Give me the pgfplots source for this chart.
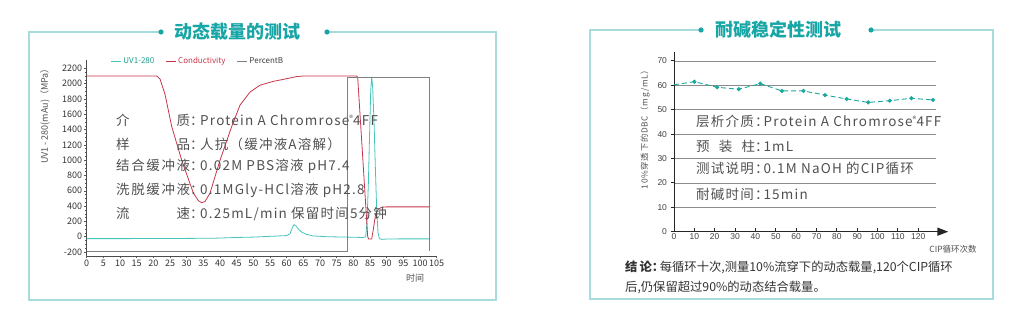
\documentclass[border=0pt]{standalone}
\usepackage{fontspec}
\setmainfont{Noto Sans CJK SC}
\newfontfamily\txtf[LetterSpace=9]{Noto Sans CJK SC}
\newfontfamily\arialf{Liberation Sans}
\usepackage{pgfplots}
\pgfplotsset{compat=1.18}
\usetikzlibrary{arrows.meta}
\definecolor{frame}{HTML}{A8DCDC}
\definecolor{ttl}{HTML}{17A5A5}
\definecolor{uv}{HTML}{45C4BC}
\definecolor{uvtxt}{HTML}{1E9E8C}
\definecolor{cond}{HTML}{C8344A}
\definecolor{pb}{HTML}{808080}
\definecolor{txt}{HTML}{505050}
\definecolor{dbc}{HTML}{1AA89C}
\definecolor{gridc}{HTML}{8C8C8C}

\pgfplotstableread{
x y
0 -25
10 -25
20 -24
30 -22
38 -20
45 -10
50 -5
55 5
60 15
61 40
61.7 120
62.2 158
62.8 140
63.5 100
64.5 60
66 30
68 10
72 0
78 -5
83 -10
83.7 0
84.1 200
84.5 700
84.9 1400
85.2 1900
85.5 2090
85.8 1950
86.2 1500
86.6 900
87 350
87.4 50
87.8 -25
88.5 -35
90 -30
95 -28
103 -28
}\uvdata

\pgfplotstableread{
x y
0 2100
21 2100
22 2060
23.5 1860
25.5 1440
28.5 1000
32 570
33.5 470
34.5 445
35.5 460
37 570
40 1000
43.5 1440
46 1720
49 1890
52 1980
56 2030
60 2065
63 2092
65 2100
81 2100
81.3 2080
84.3 0
84.6 -30
85.5 -30
86 100
86.7 300
87.5 360
88.5 385
90 390
103 390
}\conddata

\pgfplotstableread{
x y
0 -190
78.3 -190
78.3 2085
102.8 2085
102.8 -190
}\pbdata

\pgfplotstableread{
x y
0 60.2
10 61.5
21.2 59.2
31.8 58.4
42.4 60.7
53 57.7
63.6 57.7
74.2 56.0
84.8 54.4
95.4 53.0
106 53.7
116.6 54.7
127.2 54.0
}\dbcdata

\begin{document}
\begin{tikzpicture}[x=1pt,y=1pt]
\path[use as bounding box] (0,0) rectangle (1027,329);

% ---------- left panel frame ----------
\draw[frame, line width=1.4pt] (161,297) -- (29,297) -- (29,29) -- (496,29) -- (496,297) -- (327,297);
\fill[ttl] (161,297) circle (2.6);
\fill[ttl] (327,297) circle (2.6);
\node[ttl, font=\fontsize{18}{18}\selectfont\bfseries] at (237,297) {动态载量的测试};

% ---------- right panel frame ----------
\draw[frame, line width=1.4pt] (701,299) -- (590,299) -- (590,30) -- (993,30) -- (993,299) -- (871,299);
\fill[ttl] (701,299) circle (2.6);
\fill[ttl] (871,299) circle (2.6);
\node[ttl, font=\fontsize{18}{18}\selectfont\bfseries] at (778,299) {耐碱稳定性测试};

% ---------- left chart ----------
\begin{axis}[
  at={(86.7pt,73pt)}, anchor=south west, scale only axis,
  width=350pt, height=195.7pt,
  xmin=0, xmax=105, ymin=-252, ymax=2305,
  axis x line=bottom, axis y line=left,
  axis line style={-, draw=black!70, line width=0.7pt},
  xtick={0,5,...,105}, ytick={-200,0,...,2200},
  minor x tick num=4, minor y tick num=3,
  tick align=outside, major tick length=2.5pt, minor tick length=1.5pt,
  tick style={black!65, line width=0.45pt},
  tick label style={font=\fontsize{9}{9}\selectfont, text=black!80},
  xticklabel style={inner sep=1.5pt},
  yticklabel style={inner sep=2pt},
  /pgf/number format/assume math mode=true,
  /pgf/number format/set thousands separator={},
  scaled ticks=false,
  clip=false,
  legend columns=3,
  legend style={at={(0.068,0.996)}, anchor=west, draw=none, fill=none,
    font=\fontsize{8}{8}\selectfont, inner sep=0pt,
    /tikz/every even column/.append style={column sep=9pt}},
  legend image code/.code={\draw[#1] (0pt,0pt) -- (10pt,0pt);},
]
\addplot[uv, line width=0.8pt] table[x=x,y=y]{\uvdata};
\addlegendentry{\textcolor{uvtxt}{UV1-280}}
\addplot[cond, line width=0.8pt] table[x=x,y=y]{\conddata};
\addlegendentry{\textcolor{cond}{Conductivity}}
\addplot[pb, line width=0.9pt] table[x=x,y=y]{\pbdata};
\addlegendentry{\textcolor{black!75}{PercentB}}
\end{axis}

\node[rotate=90, font=\fontsize{9}{9}\selectfont, txt] at (45,215) {UV1 - 280(mAu)（MPa）};
\node[font=\fontsize{9}{9}\selectfont, txt] at (415,51) {时间};

\begin{scope}[every node/.style={anchor=west, inner sep=0pt, text=txt, font=\txtf\fontsize{13.5}{13.5}\selectfont}]
\node at (116,208.3) {\makebox[74pt][s]{介\hfill 质}\makebox[10pt][l]{：}Protein A Chromrose{\fontsize{8}{8}\selectfont\raisebox{4pt}{®}}4FF};
\node at (116,184.7) {\makebox[74pt][s]{样\hfill 品}\makebox[10pt][l]{：}人抗（缓冲液A溶解）};
\node at (116,162.3) {\makebox[74pt][s]{结\hfill 合\hfill 缓\hfill 冲\hfill 液}\makebox[10pt][l]{：}0.02M PBS溶液 pH7.4};
\node at (116,138.3) {\makebox[74pt][s]{洗\hfill 脱\hfill 缓\hfill 冲\hfill 液}\makebox[10pt][l]{：}0.1MGly-HCl溶液 pH2.8};
\node at (116,114.7) {\makebox[74pt][s]{流\hfill 速}\makebox[10pt][l]{：}0.25mL/min 保留时间5分钟};
\end{scope}

% ---------- right chart ----------
\begin{axis}[
  at={(674pt,97.3pt)}, anchor=south west, scale only axis,
  width=261.8pt, height=179.3pt,
  xmin=0, xmax=128.6, ymin=0, ymax=73.5,
  axis x line=bottom, axis y line=left,
  axis line style={-, draw=black!85, line width=0.8pt},
  x axis line style={line width=1.6pt, -{Triangle[length=11pt,width=8pt]}, shorten >=-12.5pt},
  xtick={0,10,...,120}, ytick={0,10,...,70},
  xtick align=inside, ytick align=outside,
  major tick length=3.5pt,
  tick style={black!85, line width=0.9pt},
  ymajorgrids, grid style={gridc, line width=0.8pt},
  tick label style={font=\arialf\fontsize{8.5}{8.5}\selectfont, text=black!75},
  xticklabel style={inner sep=1.5pt},
  /pgf/number format/assume math mode=true,
  clip=false,
]
\addplot[dbc, line width=0.9pt, dash pattern=on 5pt off 3pt,
  mark=*, mark size=1.6pt, mark options={solid, fill=dbc, draw=dbc},
  mark indices={2,3,4,5,6,7,8,9,10,11,12,13}] table[x=x,y=y]{\dbcdata};
\end{axis}

\node[rotate=90, font=\txtf\fontsize{8.3}{8.3}\selectfont, txt] at (645,201.5) {10\%穿透下的DBC（mg/mL）};
\node[font=\fontsize{8.5}{8.5}\selectfont, txt] at (953,80) {CIP循环次数};

\begin{scope}[every node/.style={anchor=west, inner sep=0pt, text=txt, font=\txtf\fontsize{13.5}{13.5}\selectfont}]
\node at (696,207.3) {\makebox[58.8pt][l]{层析介质}\makebox[8.5pt][l]{：}Protein A Chromrose{\fontsize{8}{8}\selectfont\raisebox{4pt}{®}}4FF};
\node at (696,182.3) {\makebox[58.8pt][s]{预\hfill 装\hfill 柱}\makebox[8.5pt][l]{：}1mL};
\node at (696,160.7) {\makebox[58.8pt][l]{测试说明}\makebox[8.5pt][l]{：}0.1M NaOH 的CIP循环};
\node at (696,135) {\makebox[58.8pt][l]{耐碱时间}\makebox[8.5pt][l]{：}15min};
\end{scope}

\begin{scope}[every node/.style={anchor=west, inner sep=0pt, text=black!80, font=\fontsize{12.3}{12.3}\selectfont}]
\node at (625,61.7) {{\bfseries 结\,论\makebox[8pt][l]{：}}每循环十次,测量10\%流穿下的动态载量,120个CIP循环};
\node at (625,41.7) {后,仍保留超过90\%的动态结合载量。};
\end{scope}

\end{tikzpicture}
\end{document}
